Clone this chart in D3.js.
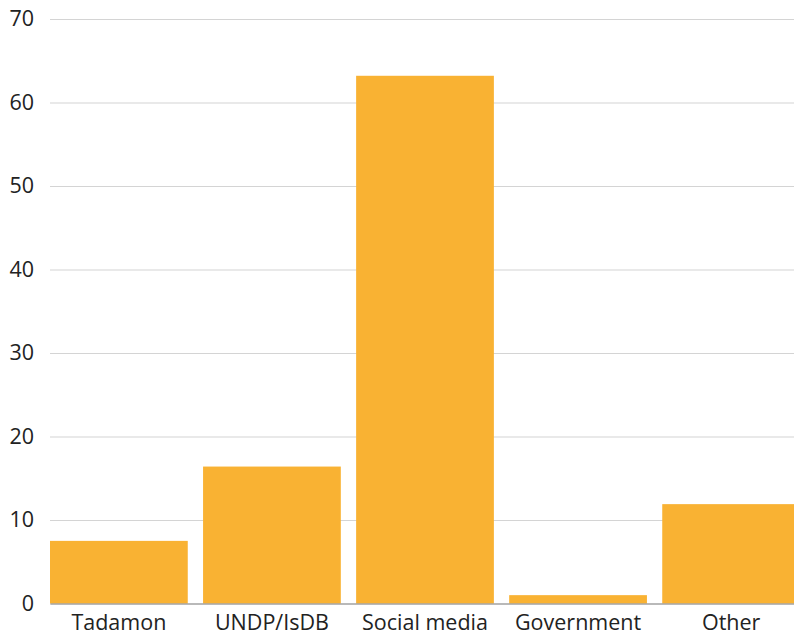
<!DOCTYPE html>
<html>
<head>
<meta charset="utf-8">
<script src="https://cdn.jsdelivr.net/npm/d3@7"></script>
<style>
  html, body { margin: 0; padding: 0; background: #fff; }
  svg text { font-family: "Open Sans", "Noto Sans", sans-serif; fill: #222; }
</style>
</head>
<body>
<svg id="chart"></svg>
<script>
// Chart values
const categories = ["Tadamon", "UNDP/IsDB", "Social media", "Government", "Other"];
const values = [7.5, 16.4, 63.2, 1.0, 11.9];
const yTicks = [0, 10, 20, 30, 40, 50, 60, 70];

const width = 794;
const height = 639;
const margin = { top: 19, right: -6, bottom: 35.5, left: 50 };

const svg = d3.select("#chart")
  .attr("width", width)
  .attr("height", height);

const x = d3.scaleBand()
  .domain(categories)
  .range([margin.left, width - margin.right])
  .paddingInner(0.1)
  .paddingOuter(0);

const y = d3.scaleLinear()
  .domain([0, 70])
  .range([height - margin.bottom, margin.top]);

// Gridlines + y labels
const yAxis = svg.append("g")
  .attr("transform", `translate(${margin.left},0)`)
  .call(d3.axisLeft(y)
    .tickValues(yTicks)
    .tickSize(-(width - margin.right - margin.left))
    .tickPadding(16));

yAxis.select(".domain").remove();
yAxis.selectAll(".tick line")
  .attr("stroke", "#d4d4d4")
  .attr("stroke-width", 1.2);
yAxis.selectAll(".tick text")
  .attr("font-size", 21.5)
  .attr("fill", "#222");

// Bars
svg.append("g")
  .selectAll("rect")
  .data(categories)
  .join("rect")
  .attr("x", d => x(d))
  .attr("y", (d, i) => y(values[i]))
  .attr("width", x.bandwidth())
  .attr("height", (d, i) => y(0) - y(values[i]))
  .attr("fill", "#f9b233");

// Baseline + category labels
const xAxis = svg.append("g")
  .attr("transform", `translate(0,${y(0)})`)
  .call(d3.axisBottom(x).tickSize(0).tickPadding(11));

xAxis.select(".domain")
  .attr("stroke", "#8a8a8a")
  .attr("stroke-width", 1.2);
xAxis.selectAll(".tick text")
  .attr("font-size", 21.5)
  .attr("fill", "#222");
</script>
</body>
</html>
